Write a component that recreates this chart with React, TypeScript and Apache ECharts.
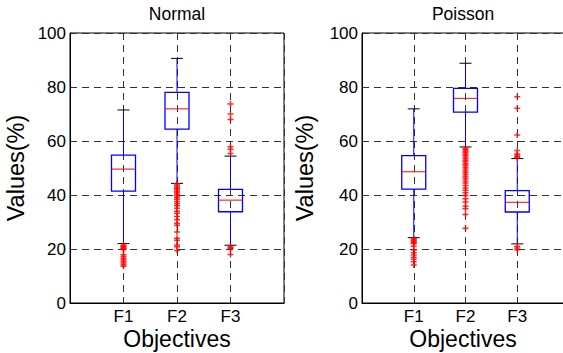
import React, { useEffect, useRef } from 'react';
import * as echarts from 'echarts';

const categories = ['F1', 'F2', 'F3'];
const panelTitles = ['Normal', 'Poisson'];
const xTitle = 'Objectives';
const yTitle = 'Values(%)';

// [lower whisker, Q1, median, Q3, upper whisker]
const normalF1 = [22.0, 41.4, 49.6, 54.8, 71.5];
const normalF2 = [44.3, 64.4, 71.9, 78.0, 90.6];
const normalF3 = [21.4, 33.8, 38.1, 42.1, 54.4];
const poissonF1 = [24.2, 42.2, 48.6, 54.6, 71.9];
const poissonF2 = [57.8, 70.7, 75.8, 79.5, 88.8];
const poissonF3 = [21.9, 33.7, 37.3, 41.6, 53.5];

const normalOutF1 = [21.4, 21.0, 20.7, 20.4, 20.1, 19.8, 17.9, 17.2, 16.6, 16.0, 15.4, 14.8, 14.2, 13.6];
const normalOutF2 = [44.2, 43.6, 43.0, 42.5, 42.0, 41.4, 40.8, 40.2, 39.6, 39.0, 38.3, 37.5, 36.8, 36.0, 35.1, 34.0, 33.2, 32.0, 30.8, 29.5, 28.8, 26.3, 24.0, 23.2, 21.5, 20.8, 19.4];
const normalOutF3 = [73.7, 70.0, 68.0, 57.9, 56.9, 55.4, 20.9, 20.5, 20.1, 18.0];
const poissonOutF1 = [23.9, 23.5, 23.1, 22.7, 22.3, 21.9, 21.0, 19.6, 18.6, 17.8, 16.9, 16.2, 15.3, 14.1];
const poissonOutF2 = [57.3, 56.8, 56.3, 55.8, 55.2, 54.7, 54.1, 53.5, 52.9, 52.3, 51.6, 51.0, 50.3, 49.6, 48.9, 48.2, 47.5, 46.8, 46.0, 45.2, 44.4, 43.5, 42.6, 41.8, 40.8, 39.8, 38.6, 37.4, 35.8, 34.9, 32.8, 27.7];
const poissonOutF3 = [76.4, 72.1, 62.2, 56.5, 55.2, 54.8, 54.3, 53.9, 21.0, 20.4, 19.7];

const yTicks = [0, 20, 40, 60, 80, 100];

const FONT = 'Liberation Sans, Arial, Helvetica, sans-serif';

const boxData = (stats: number[][]) => stats.map((s, i) => [i + 1, ...s]);
const outData = (outs: number[][]) => {
  const res: number[][] = [];
  outs.forEach((arr, i) => arr.forEach((v) => res.push([i + 1, v])));
  return res;
};

const renderBox = (_params: any, api: any) => {
  const x = api.value(0);
  const lo = api.coord([x, api.value(1)]);
  const q1 = api.coord([x, api.value(2)]);
  const md = api.coord([x, api.value(3)]);
  const q3 = api.coord([x, api.value(4)]);
  const hi = api.coord([x, api.value(5)]);
  const hw = 12;
  const cw = 6;
  const blue = '#0000ff';
  return {
    type: 'group',
    children: [
      { type: 'line', shape: { x1: lo[0], y1: lo[1], x2: q1[0], y2: q1[1] }, style: { stroke: blue, lineWidth: 1 } },
      { type: 'line', shape: { x1: q3[0], y1: q3[1], x2: hi[0], y2: hi[1] }, style: { stroke: blue, lineWidth: 1 } },
      { type: 'rect', shape: { x: q3[0] - hw, y: q3[1], width: hw * 2, height: q1[1] - q3[1] }, style: { fill: 'none', stroke: blue, lineWidth: 1.3 } },
      { type: 'line', shape: { x1: md[0] - hw, y1: md[1], x2: md[0] + hw, y2: md[1] }, style: { stroke: '#ff0000', lineWidth: 1 } },
      { type: 'line', shape: { x1: lo[0] - cw, y1: lo[1], x2: lo[0] + cw, y2: lo[1] }, style: { stroke: '#000', lineWidth: 1 } },
      { type: 'line', shape: { x1: hi[0] - cw, y1: hi[1], x2: hi[0] + cw, y2: hi[1] }, style: { stroke: '#000', lineWidth: 1 } },
    ],
  };
};

const PLUS = 'path://M2.25,0h1.5v2.25h2.25v1.5h-2.25v2.25h-1.5v-2.25h-2.25v-1.5h2.25z';

export default function App() {
  const ref = useRef<HTMLDivElement>(null);
  useEffect(() => {
    if (!ref.current) return;
    const chart = echarts.init(ref.current, null, { renderer: 'svg' });
    const gridLine = { show: true, lineStyle: { color: '#333', type: [7, 5] as any, width: 1 } };
    const mkX = (idx: number) => ({
      type: 'value',
      gridIndex: idx,
      min: 0,
      max: 4,
      interval: 1,
      axisLine: { show: true, lineStyle: { color: '#000' } },
      axisTick: { show: false },
      splitLine: gridLine,
      axisLabel: {
        color: '#000',
        fontSize: 17,
        lineHeight: 17,
        fontFamily: FONT,
        margin: 5,
        formatter: (v: number) => (v >= 1 && v <= 3 ? categories[v - 1] : ''),
      },
    });
    const mkY = (idx: number, gap: number) => ({
      type: 'value',
      gridIndex: idx,
      min: 0,
      max: 100,
      interval: 20,
      axisLine: { show: true, lineStyle: { color: '#000' } },
      axisTick: { show: false },
      splitLine: gridLine,
      axisLabel: {
        color: '#000',
        fontSize: 17,
        fontFamily: FONT,
        margin: 4,
        formatter: (v: number) => (yTicks.includes(v) ? String(v) : ''),
      },
      name: yTitle,
      nameLocation: 'middle',
      nameGap: gap,
      nameTextStyle: { color: '#000', fontSize: 23.5, fontFamily: FONT },
    });
    const scatterStyle = {
      type: 'scatter',
      symbol: PLUS,
      symbolSize: 6,
      itemStyle: { color: '#ff0000' },
      z: 5,
    };
    const txt = (text: string, x: number, y: number, size: number) => ({
      type: 'text',
      x,
      y,
      style: { text, fontSize: size, lineHeight: size, fontFamily: FONT, fill: '#000', textAlign: 'center', textVerticalAlign: 'middle' },
    });
    chart.setOption({
      animation: false,
      grid: [
        { left: 70, top: 33, width: 214, height: 270, show: true, borderColor: '#000', borderWidth: 1, backgroundColor: 'transparent', containLabel: false, outerBoundsMode: 'none' },
        { left: 362, top: 33, width: 207, height: 270, show: true, borderColor: '#000', borderWidth: 1, backgroundColor: 'transparent', containLabel: false, outerBoundsMode: 'none' },
      ],
      xAxis: [mkX(0), mkX(1)],
      yAxis: [mkY(0, 42), mkY(1, 45)],
      graphic: [
        txt(panelTitles[0], 177, 14, 17.5),
        txt(panelTitles[1], 463, 14, 17.5),
        txt(xTitle, 177, 339, 23),
        txt(xTitle, 463, 339, 23),
      ],
      series: [
        { type: 'custom', xAxisIndex: 0, yAxisIndex: 0, renderItem: renderBox, encode: { x: 0, y: [1, 2, 3, 4, 5] }, data: boxData([normalF1, normalF2, normalF3]), z: 3 },
        { type: 'custom', xAxisIndex: 1, yAxisIndex: 1, renderItem: renderBox, encode: { x: 0, y: [1, 2, 3, 4, 5] }, data: boxData([poissonF1, poissonF2, poissonF3]), z: 3 },
        { ...scatterStyle, xAxisIndex: 0, yAxisIndex: 0, data: outData([normalOutF1, normalOutF2, normalOutF3]) },
        { ...scatterStyle, xAxisIndex: 1, yAxisIndex: 1, data: outData([poissonOutF1, poissonOutF2, poissonOutF3]) },
      ],
    });
    return () => chart.dispose();
  }, []);
  return <div ref={ref} style={{ position: 'absolute', left: 0, top: 0, width: 563, height: 353, background: '#fff' }} />;
}
